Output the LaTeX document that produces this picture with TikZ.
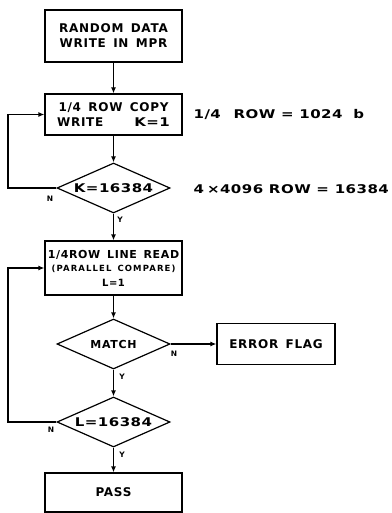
\documentclass[tikz,border=0pt]{standalone}
\usepackage{fontspec}
\setmainfont{DejaVu Sans}[LetterSpace=6, WordSpace=1.5]
\newfontfamily\widefont{DejaVu Sans}[FakeStretch=1.25, LetterSpace=4]
\usetikzlibrary{shapes.geometric,arrows.meta}

\begin{document}
\begin{tikzpicture}[x=1pt, y=-1pt, line width=1.2pt, line join=miter,
  box/.style={draw, rectangle, inner sep=0pt, align=center,
    font=\fontsize{12}{15}\selectfont\bfseries},
  dec/.style={draw, diamond, aspect=2.3, inner sep=0pt,
    minimum width=113pt, minimum height=50pt,
    font=\widefont\fontsize{12}{15}\selectfont\bfseries},
  yn/.style={inner sep=0pt, font=\fontsize{7.5}{8}\selectfont\bfseries},
  note/.style={anchor=west, inner sep=0pt,
    font=\widefont\fontsize{12}{15}\selectfont\bfseries},
  flow/.style={-{Latex[length=6pt,width=5pt]}}]

  %% ════ 方框 ════
  \node[box, minimum width=137pt, minimum height=52pt] (rand) at (113.5,36.0)
    {RANDOM DATA\\WRITE IN MPR};                      % box(45,10,137,52)
  \node[box, minimum width=137pt, minimum height=41pt] (copy) at (113.5,114.5)
    {1/4 ROW COPY\\WRITE\hspace{31pt}{\widefont K=1}}; % box(45,94,137,41)
  \node[box, minimum width=137pt, minimum height=54pt] (lread) at (113.5,268.0)
    {\fontsize{11}{15}\selectfont 1/4ROW LINE READ\\[-2pt]
     \fontsize{8.5}{11}\selectfont\addfontfeature{LetterSpace=13}(PARALLEL COMPARE)\\
     \fontsize{10}{12}\selectfont L=1};                % box(45,241,137,54)
  \node[box, minimum width=118pt, minimum height=41pt] (err) at (276.0,344.0)
    {ERROR FLAG};                                      % box(217,324,118,41)
  \node[box, minimum width=137pt, minimum height=39pt] (pass) at (113.5,492.5)
    {PASS};                                            % box(45,473,137,39)

  %% ════ 判断菱形 ════
  \node[dec] (kchk) at (113.5,188.0) {K=16384};
  \node[dec, font=\fontsize{11}{14}\selectfont\bfseries] (match) at (113.5,344.0) {MATCH};
  \node[dec] (lchk) at (113.5,422.0) {L=16384};

  %% ════ 旁注 ════
  \node[note] (rowlen) at (193.0,114.0) {1/4\hspace{7pt} ROW = 1024\hspace{5pt} b};
  \node[note] (rowcnt) at (193.0,189.0) {4\hspace{3pt}×4096 ROW = 16384};

  %% ════ Y / N ════
  \node[yn] (kno)  at (50.0,199.0)  {N};
  \node[yn] (kyes) at (120.0,220.0) {Y};
  \node[yn] (mno)  at (174.0,354.0) {N};
  \node[yn] (myes) at (122.0,377.0) {Y};
  \node[yn] (lno)  at (51.0,430.0)  {N};
  \node[yn] (lyes) at (122.0,455.0) {Y};

  %% ════ 连线 ════
  \coordinate (back) at (8.0,0.0);   % 左侧回路竖线 x=8
  \draw[flow] (rand) -- (copy);
  \draw[flow] (copy) -- (kchk);
  \draw[flow] (kchk) -- (lread);
  \draw[flow] (lread) -- (match);
  \draw[flow] (match) -- (lchk);
  \draw[flow] (lchk) -- (pass);
  \draw[flow] (match.east) -- (err.west);
  \draw[flow] (kchk.west) -- (kchk.west -| back) |- (copy.west);
  \draw[flow] (lchk.west) -- (lchk.west -| back) |- (lread.west);

  % 钉死画布
  \pgfresetboundingbox
  \path[use as bounding box] (0,0) rectangle (391,513);
\end{tikzpicture}
\end{document}
